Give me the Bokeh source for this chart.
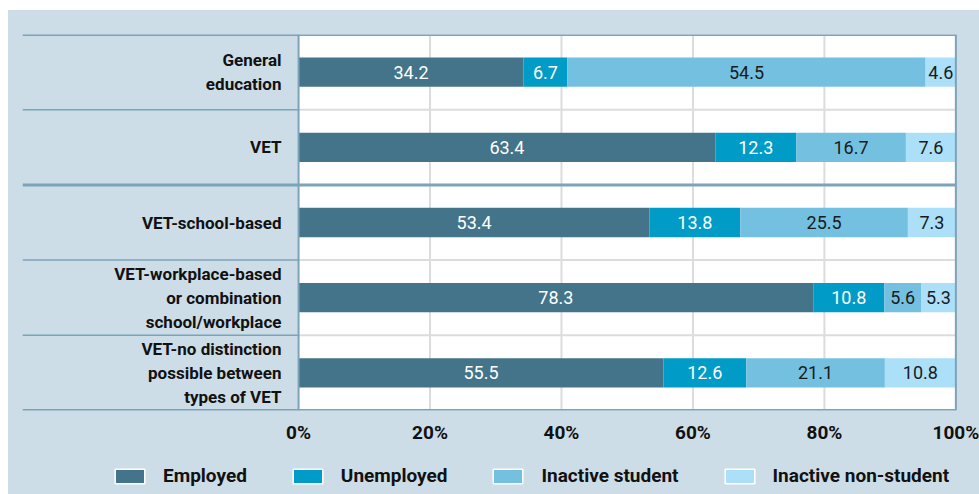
from bokeh.plotting import figure
from bokeh.models import Range1d, Legend, LegendItem
from bokeh.layouts import column
from bokeh.embed import file_html
from bokeh.resources import INLINE
from bokeh.core.properties import value

# ---- data ----
categories = [
    "General\neducation",
    "VET",
    "VET-school-based",
    "VET-workplace-based\nor combination\nschool/workplace",
    "VET-no distinction\npossible between\ntypes of VET",
]
series = ["Employed", "Unemployed", "Inactive student", "Inactive non-student"]
employed = [34.2, 63.4, 53.4, 78.3, 55.5]
unemployed = [6.7, 12.3, 13.8, 10.8, 12.6]
inactive_student = [54.5, 16.7, 25.5, 5.6, 21.1]
inactive_non_student = [4.6, 7.6, 7.3, 5.3, 10.8]
x_ticks = [0, 20, 40, 60, 80, 100]
x_tick_labels = ["0%", "20%", "40%", "60%", "80%", "100%"]

# ---- styles ----
FONT = "Roboto"
BG = "#cddde7"
LINE = "#7ba3b9"
GRID = "#dcdcdc"
colors = ["#437489", "#009bc6", "#74c0e0", "#abe0f8"]
label_colors = ["white", "white", "#1a1a1a", "#1a1a1a"]
X_MIN = -42.0
X_MAX = 100.4

values = [employed, unemployed, inactive_student, inactive_non_student]
n = len(categories)
ys = [n - i - 0.5 for i in range(n)]

p = figure(width=971, height=440,
           x_range=Range1d(X_MIN, X_MAX), y_range=Range1d(0, n),
           output_backend="svg", toolbar_location=None,
           min_border_left=14, min_border_right=21,
           min_border_top=24, min_border_bottom=40,
           background_fill_color=BG, border_fill_color=BG,
           outline_line_color=None)
p.yaxis.visible = False
p.grid.visible = False

# white plotting area
p.quad(left=[0], right=[100], bottom=[0], top=[n], fill_color="white", line_color=None)

# vertical gridlines
inner = [t for t in x_ticks if 0 < t < 100]
p.segment(x0=inner, x1=inner, y0=[0] * len(inner), y1=[n] * len(inner),
          line_color=GRID, line_width=2)

# thin separators between rows (within groups)
thin = [1, 2, 4]
thick = [0, 3, 5]
p.segment(x0=[0] * 3, x1=[100] * 3, y0=thin, y1=thin, line_color=GRID, line_width=2)
p.segment(x0=[X_MIN] * 3, x1=[0] * 3, y0=thin, y1=thin, line_color=LINE, line_width=1.5)

# stacked bars
left = [0.0] * n
for s, vals, col, lc in zip(series, values, colors, label_colors):
    right = [l + v for l, v in zip(left, vals)]
    p.hbar(y=ys, left=left, right=right, height=0.39, fill_color=col, line_color=None)
    mids = [(l + r) / 2 for l, r in zip(left, right)]
    p.text(x=mids, y=ys, text=[f"{v:.1f}" for v in vals],
           text_align="center", text_baseline="middle",
           text_font=value(FONT), text_font_size="18px", text_color=lc)
    left = right

# category labels
p.text(x=[-2.6] * n, y=ys, text=categories, text_align="right", text_baseline="middle",
       text_font=value(FONT), text_font_style="bold", text_font_size="17px",
       text_color="#111111", text_line_height=1.2)

# blue frame lines
p.segment(x0=[X_MIN] * 3, x1=[100] * 3, y0=thick, y1=thick, line_color=LINE, line_width=3)
p.segment(x0=[0, 100], x1=[0, 100], y0=[0, 0], y1=[n, n], line_color=LINE, line_width=2)

# x axis
ax = p.xaxis[0]
ax.ticker = x_ticks
ax.major_label_overrides = {t: l for t, l in zip(x_ticks, x_tick_labels)}
ax.axis_line_color = None
ax.major_tick_line_color = None
ax.minor_tick_line_color = None
ax.major_tick_out = 0
ax.major_label_standoff = 10
ax.major_label_text_font = FONT
ax.major_label_text_font_style = "bold"
ax.major_label_text_font_size = "19px"
ax.major_label_text_color = "#111111"

# legend strip
p2 = figure(width=971, height=44, output_backend="svg", toolbar_location=None,
            x_range=Range1d(0, 1), y_range=Range1d(0, 1),
            min_border_left=0, min_border_right=0, min_border_top=0, min_border_bottom=0,
            background_fill_color=BG, border_fill_color=BG, outline_line_color=None)
p2.axis.visible = False
p2.grid.visible = False
legend_items = []
for s, col in zip(series, colors):
    # off-screen swatch source, only used to draw the legend key
    r = p2.quad(left=[5], right=[6], top=[6], bottom=[5], fill_color=col,
                line_color="white", line_width=1.5)
    legend_items.append(LegendItem(label=s, renderers=[r]))
legend = Legend(items=legend_items, orientation="horizontal", location=(89, 7),
                glyph_width=37, glyph_height=18, label_standoff=15, spacing=42,
                padding=0, margin=0, background_fill_alpha=0, border_line_color=None,
                label_text_font=FONT, label_text_font_style="bold",
                label_text_font_size="19px", label_text_color="#111111")
p2.add_layout(legend, "center")

layout = column(p, p2, spacing=0, margin=(10, 0, 0, 8), styles={"background-color": BG})
open("out.html", "w").write(file_html(layout, INLINE))
